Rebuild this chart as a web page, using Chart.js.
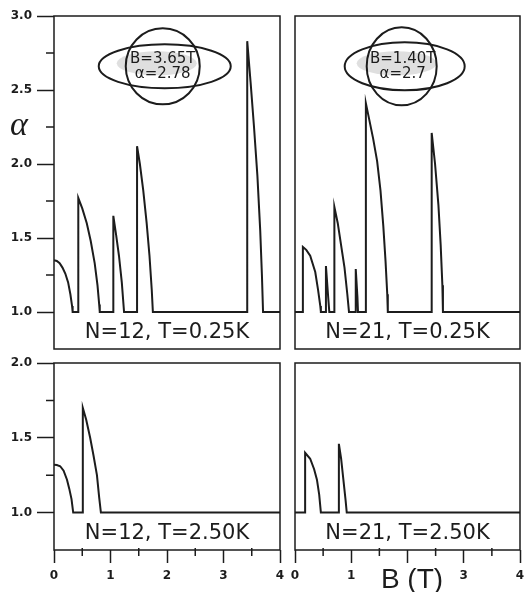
<!DOCTYPE html>
<html>
<head>
<meta charset="utf-8">
<script src="https://cdn.jsdelivr.net/npm/chart.js@4.4.1/dist/chart.umd.min.js"></script>
<style>
  body { margin: 0; background: #fff; overflow: hidden; }
  #wrap { position: relative; width: 524px; height: 592px; overflow: hidden; }
  #wrap canvas { position: absolute; left: 0; top: 0; }
</style>
</head>
<body>
<div id="wrap">
  <canvas id="tl" width="560" height="592"></canvas>
  <canvas id="tr" width="560" height="592"></canvas>
  <canvas id="bl" width="560" height="592"></canvas>
  <canvas id="br" width="560" height="592"></canvas>
</div>
<script>
// N=12, T=0.25K
const bN12Cold = [0, 0.05, 0.1, 0.15, 0.2, 0.25, 0.29, 0.32, 0.33, 0.43, 0.43, 0.5, 0.58, 0.65, 0.72, 0.77, 0.8, 0.81,
  1.05, 1.05, 1.1, 1.15, 1.2, 1.24, 1.47, 1.47, 1.52, 1.58, 1.64, 1.69, 1.73, 1.75,
  3.42, 3.42, 3.48, 3.54, 3.6, 3.65, 3.68, 3.7, 4];
const aN12Cold = [1.35, 1.345, 1.33, 1.3, 1.26, 1.2, 1.12, 1.04, 1.0, 1.0, 1.77, 1.7, 1.6, 1.48, 1.33, 1.18, 1.05, 1.0,
  1.0, 1.65, 1.52, 1.38, 1.2, 1.0, 1.0, 2.12, 2.0, 1.82, 1.6, 1.38, 1.15, 1.0,
  1.0, 2.83, 2.55, 2.25, 1.92, 1.55, 1.25, 1.0, 1.0];

// N=21, T=0.25K
const bN21Cold = [0, 0.14, 0.14, 0.2, 0.27, 0.36, 0.41, 0.45, 0.46, 0.55, 0.55, 0.59, 0.61, 0.7, 0.7, 0.76, 0.82, 0.88, 0.93, 0.96,
  1.08, 1.08, 1.11, 1.12, 1.26, 1.26, 1.32, 1.39, 1.46, 1.52, 1.57, 1.61, 1.64, 1.65,
  2.43, 2.43, 2.49, 2.55, 2.59, 2.62, 2.63, 4];
const aN21Cold = [1.0, 1.0, 1.44, 1.42, 1.38, 1.27, 1.15, 1.04, 1.0, 1.0, 1.31, 1.1, 1.0, 1.0, 1.71, 1.6, 1.45, 1.3, 1.12, 1.0,
  1.0, 1.29, 1.1, 1.0, 1.0, 2.41, 2.3, 2.17, 2.02, 1.82, 1.58, 1.34, 1.12, 1.0,
  1.0, 2.21, 2.0, 1.72, 1.45, 1.18, 1.0, 1.0];

// N=12, T=2.50K
const bN12Warm = [0, 0.05, 0.11, 0.17, 0.23, 0.27, 0.31, 0.34, 0.51, 0.51, 0.57, 0.64, 0.7, 0.76, 0.8, 0.83, 4];
const aN12Warm = [1.32, 1.318, 1.31, 1.28, 1.22, 1.16, 1.09, 1.0, 1.0, 1.7, 1.62, 1.5, 1.38, 1.25, 1.1, 1.0, 1.0];

// N=21, T=2.50K
const bN21Warm = [0, 0.18, 0.18, 0.27, 0.34, 0.39, 0.43, 0.46, 0.78, 0.78, 0.82, 0.86, 0.9, 0.92, 4];
const aN21Warm = [1.0, 1.0, 1.4, 1.36, 1.29, 1.22, 1.12, 1.0, 1.0, 1.46, 1.36, 1.22, 1.08, 1.0, 1.0];

const yTicksTop = [1.0, 1.5, 2.0, 2.5, 3.0];
const yMinorTop = [1.25, 1.75, 2.25, 2.75];
const yTicksBottom = [1.0, 1.5, 2.0];
const yMinorBottom = [1.25, 1.75];
const xTicks = [0, 1, 2, 3, 4];
const xMinor = [0.5, 1.5, 2.5, 3.5];

const panelLabels = ["N=12, T=0.25K", "N=21, T=0.25K", "N=12, T=2.50K", "N=21, T=2.50K"];
const badgeLines = [["B=3.65T", "α=2.78"], ["B=1.40T", "α=2.7"]];

const ink = "#1c1c1c";
const tickFont = { family: "DejaVu Sans", size: 12, weight: "bold" };
const W = 560, H = 592;

function toPoints(xs, ys) {
  return xs.map((v, i) => ({ x: v, y: ys[i] }));
}

function framePlugin(cfg) {
  return {
    id: "frame",
    afterDatasetsDraw(chart) {
      const { ctx, chartArea: a } = chart;
      const x = chart.scales.x, y = chart.scales.y;
      ctx.save();
      ctx.strokeStyle = ink;
      ctx.lineWidth = 1.5;
      ctx.strokeRect(a.left, a.top, a.right - a.left, a.bottom - a.top);

      ctx.beginPath();
      (cfg.minorY || []).forEach(v => {
        const py = y.getPixelForValue(v);
        ctx.moveTo(a.left - 8, py); ctx.lineTo(a.left, py);
      });
      (cfg.minorX || []).forEach(v => {
        const px = x.getPixelForValue(v);
        ctx.moveTo(px, a.bottom - 2); ctx.lineTo(px, a.bottom + 6);
      });
      ctx.stroke();

      ctx.fillStyle = ink;
      ctx.font = '21px "DejaVu Sans"';
      ctx.textAlign = "center";
      ctx.textBaseline = "middle";
      ctx.fillText(cfg.label, (a.left + a.right) / 2, a.bottom - 16);

      if (cfg.badge) {
        const b = cfg.badge;
        const cx = x.getPixelForValue(b.at[0]), cy = y.getPixelForValue(b.at[1]);
        ctx.fillStyle = "rgba(110,110,110,0.22)";
        ctx.beginPath();
        ctx.ellipse(cx - 8, cy - 3, 40, 12, 0, 0, Math.PI * 2);
        ctx.fill();
        ctx.lineWidth = 2;
        ctx.beginPath();
        ctx.ellipse(cx + b.circle[0], cy, b.circle[1], b.circle[2], 0, 0, Math.PI * 2);
        ctx.stroke();
        ctx.beginPath();
        ctx.ellipse(cx, cy, b.ellipse[0], b.ellipse[1], 0, 0, Math.PI * 2);
        ctx.stroke();
        ctx.fillStyle = ink;
        ctx.font = '15px "DejaVu Sans"';
        ctx.fillText(b.lines[0], cx - 2, cy - 7);
        ctx.fillText(b.lines[1], cx - 2, cy + 8);
      }
      if (cfg.extra) cfg.extra(ctx, chart);
      ctx.restore();
    }
  };
}

function makePanel(id, xs, ys, opt) {
  const area = opt.area; // [left, top, right, bottom]
  const yScale = {
    type: "linear",
    min: opt.yMin, max: opt.yMax,
    display: opt.showY,
    afterFit: s => { s.width = opt.showY ? area[0] : 0; },
    afterBuildTicks: s => { s.ticks = opt.yTicks.map(v => ({ value: v })); },
    grid: { display: true, drawOnChartArea: false, drawTicks: true, tickLength: 17, color: ink, tickColor: ink, tickWidth: 1.5 },
    border: { display: false },
    ticks: { font: tickFont, color: ink, padding: 5, callback: v => Number(v).toFixed(1) }
  };
  const xScale = {
    type: "linear",
    min: 0, max: 4,
    display: opt.showX,
    afterFit: s => { s.height = opt.showX ? 42 : 0; },
    afterBuildTicks: s => { s.ticks = xTicks.map(v => ({ value: v })); },
    grid: { display: true, drawOnChartArea: false, drawTicks: true, tickLength: 13, color: ink, tickColor: ink, tickWidth: 1.5 },
    border: { display: false },
    ticks: { font: tickFont, color: ink, padding: 6, maxRotation: 0,
      callback: v => (opt.skipX && opt.skipX.includes(v)) ? "" : String(v) }
  };
  return new Chart(document.getElementById(id), {
    type: "line",
    data: {
      datasets: [{
        data: toPoints(xs, ys),
        borderColor: ink,
        borderWidth: 2,
        pointRadius: 0,
        tension: 0,
        fill: false
      }]
    },
    options: {
      responsive: false,
      animation: false,
      devicePixelRatio: 1,
      layout: {
        padding: {
          left: opt.showY ? 0 : area[0],
          top: area[1],
          right: W - area[2],
          bottom: H - area[3] - (opt.showX ? 42 : 0)
        }
      },
      plugins: { legend: { display: false }, tooltip: { enabled: false } },
      scales: { x: xScale, y: yScale }
    },
    plugins: [framePlugin(opt.frame)]
  });
}

makePanel("tl", bN12Cold, aN12Cold, {
  area: [54, 16, 280, 349], yMin: 0.75, yMax: 3.0, yTicks: yTicksTop, showY: true, showX: false,
  frame: {
    label: panelLabels[0], minorY: yMinorTop,
    badge: { at: [1.96, 2.66], circle: [-2, 37, 38], ellipse: [66, 22], lines: badgeLines[0] },
    extra: ctx => {
      ctx.font = 'italic 34px "Liberation Serif"';
      ctx.textAlign = "center";
      ctx.textBaseline = "middle";
      ctx.fillText("α", 19, 126);
    }
  }
});

makePanel("tr", bN21Cold, aN21Cold, {
  area: [295, 16, 520, 349], yMin: 0.75, yMax: 3.0, yTicks: yTicksTop, showY: false, showX: false,
  frame: {
    label: panelLabels[1],
    badge: { at: [1.95, 2.66], circle: [-3, 35, 39], ellipse: [60, 24], lines: badgeLines[1] }
  }
});

makePanel("bl", bN12Warm, aN12Warm, {
  area: [54, 363, 280, 550], yMin: 0.75, yMax: 2.0, yTicks: yTicksBottom, showY: true, showX: true,
  frame: { label: panelLabels[2], minorY: yMinorBottom, minorX: xMinor }
});

makePanel("br", bN21Warm, aN21Warm, {
  area: [295, 363, 520, 550], yMin: 0.75, yMax: 2.0, yTicks: yTicksBottom, showY: false, showX: true, skipX: [2],
  frame: {
    label: panelLabels[3], minorX: xMinor,
    extra: ctx => {
      ctx.font = '28px "Liberation Sans"';
      ctx.textAlign = "center";
      ctx.textBaseline = "middle";
      ctx.fillText("B (T)", 412, 580);
    }
  }
});
</script>
</body>
</html>
